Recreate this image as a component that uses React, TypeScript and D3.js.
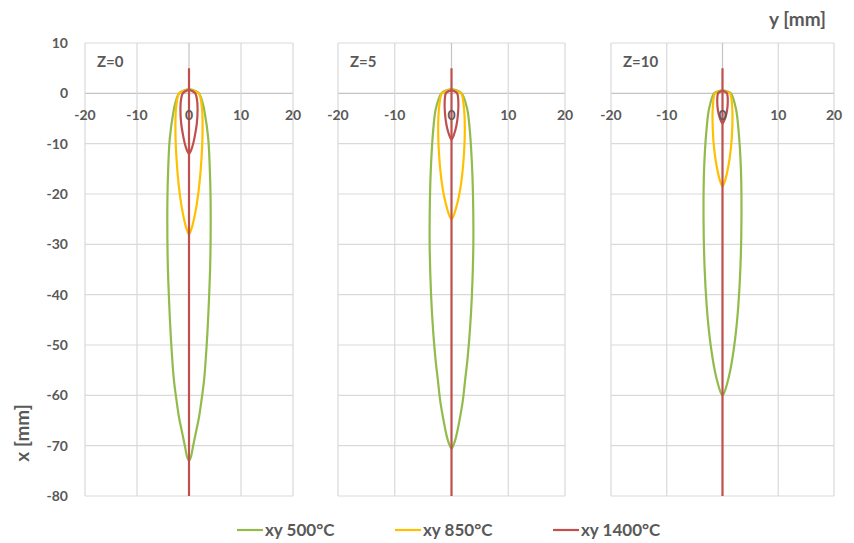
import React, { useEffect, useRef } from 'react';
import * as d3 from 'd3';

// panels and series
const panelLabels = ['Z=0', 'Z=5', 'Z=10'];
const seriesNames = ['xy 500°C', 'xy 850°C', 'xy 1400°C'];
const seriesColors = ['#92bb4c', '#ffc000', '#c0504d'];

const yTickValues = [-20, -10, 0, 10, 20];
const xTickValues = [10, 0, -10, -20, -30, -40, -50, -60, -70, -80];

// half-width profiles: [x depth (mm), half width in y (mm)]
const z0_500: [number, number][] = [
  [0.8, 0], [0.55, 1.0], [0, 1.9], [-2, 2.65], [-4, 3.05], [-9, 3.7], [-15, 4.0], [-21, 4.15],
  [-33, 4.1], [-42, 3.8], [-50, 3.4], [-57, 2.9], [-61, 2.4], [-64.5, 1.9], [-67, 1.4], [-70, 0.8],
  [-72.3, 0.35], [-73, 0],
];
const z0_850: [number, number][] = [
  [0.75, 0], [0.45, 1.0], [0, 1.9], [-3, 2.5], [-8, 2.6], [-13, 2.4], [-18, 2.0], [-22, 1.5],
  [-25, 0.95], [-27, 0.45], [-28, 0],
];
const z0_1400: [number, number][] = [
  [0.65, 0], [0.4, 0.7], [0, 1.2], [-1, 1.5], [-3, 1.65], [-6, 1.5], [-8, 1.2], [-10, 0.8],
  [-11.3, 0.4], [-12, 0],
];

const z5_500: [number, number][] = [
  [0.8, 0], [0.55, 1.0], [0, 1.8], [-3, 2.75], [-7, 3.2], [-14, 3.6], [-21, 3.8], [-30, 3.85],
  [-40, 3.6], [-47, 3.25], [-53, 2.8], [-57, 2.4], [-61, 2.0], [-65, 1.4], [-68.5, 0.75],
  [-70, 0.3], [-70.6, 0],
];
const z5_850: [number, number][] = [
  [0.75, 0], [0.45, 0.9], [0, 1.7], [-3, 2.2], [-7, 2.35], [-12, 2.2], [-17, 1.8], [-20.5, 1.3],
  [-23, 0.75], [-24.5, 0.3], [-25, 0],
];
const z5_1400: [number, number][] = [
  [0.6, 0], [0.35, 0.6], [0, 1.0], [-1.5, 1.2], [-4, 1.15], [-6.5, 0.85], [-8.3, 0.4], [-9.2, 0],
];

const z10_500: [number, number][] = [
  [0.6, 0], [0.35, 0.9], [0, 1.5], [-3, 2.4], [-7, 2.85], [-15, 3.3], [-25, 3.4], [-35, 3.2],
  [-42, 2.85], [-47, 2.45], [-51, 2.0], [-55, 1.4], [-58, 0.75], [-59.5, 0.3], [-60, 0],
];
const z10_850: [number, number][] = [
  [0.5, 0], [0.25, 0.8], [0, 1.35], [-3, 1.75], [-7, 1.75], [-11, 1.5], [-14.5, 1.05],
  [-17, 0.55], [-18.1, 0.2], [-18.5, 0],
];
const z10_1400: [number, number][] = [
  [0.5, 0], [0.25, 0.55], [0, 0.8], [-1.5, 0.95], [-3.5, 0.8], [-5, 0.45], [-6, 0],
];

// red centre line x range
const centreLine: [number, number] = [5, -80];

const profiles = [
  [z0_500, z0_850, z0_1400],
  [z5_500, z5_850, z5_1400],
  [z10_500, z10_850, z10_1400],
];

const font = 'Lato, "Open Sans", sans-serif';
const textColor = '#595959';

const App = () => {
  const chartRef = useRef<SVGSVGElement>(null);

  useEffect(() => {
    const svg = d3.select(chartRef.current);
    svg.selectAll('*').remove();

    const panelRanges = [[85, 293], [338, 565], [611, 834]];
    const y = d3.scaleLinear().domain([-80, 10]).range([496, 43]);

    // right side top->bottom, then left side back up
    const loop = (prof: [number, number][]) => {
      const right = prof.map(([d, w]) => [w, d] as [number, number]);
      const left = prof.slice(1, -1).reverse().map(([d, w]) => [-w, d] as [number, number]);
      return right.concat(left);
    };

    panelRanges.forEach((range, pi) => {
      const x = d3.scaleLinear().domain([-20, 20]).range(range);
      const g = svg.append('g');

      // grid
      g.selectAll('line.h')
        .data(xTickValues)
        .enter()
        .append('line')
        .attr('x1', range[0])
        .attr('x2', range[1])
        .attr('y1', (d) => y(d))
        .attr('y2', (d) => y(d))
        .attr('stroke', (d) => (d === 0 ? '#c4c4c4' : '#d9d9d9'))
        .attr('stroke-width', 1.2);
      g.selectAll('line.v')
        .data(yTickValues)
        .enter()
        .append('line')
        .attr('x1', (d) => x(d))
        .attr('x2', (d) => x(d))
        .attr('y1', y(10))
        .attr('y2', y(-80))
        .attr('stroke', (d) => (d === 0 ? '#c4c4c4' : '#d9d9d9'))
        .attr('stroke-width', 1.2);

      const line = d3
        .line<[number, number]>()
        .x((d) => x(d[0]))
        .y((d) => y(d[1]))
        .curve(d3.curveCatmullRomClosed.alpha(0.5));

      profiles[pi].forEach((prof, si) => {
        g.append('path')
          .attr('d', line(loop(prof)))
          .attr('fill', 'none')
          .attr('stroke', seriesColors[si])
          .attr('stroke-width', 2.2);
      });

      g.append('line')
        .attr('x1', x(0))
        .attr('x2', x(0))
        .attr('y1', y(centreLine[0]))
        .attr('y2', y(centreLine[1]))
        .attr('stroke', seriesColors[2])
        .attr('stroke-width', 2.2);

      // horizontal axis labels
      g.selectAll('text.tick')
        .data(yTickValues)
        .enter()
        .append('text')
        .attr('x', (d) => x(d))
        .attr('y', y(0) + 27)
        .attr('text-anchor', 'middle')
        .attr('font-family', font)
        .attr('font-weight', 'bold')
        .attr('font-size', 14)
        .attr('fill', textColor)
        .text((d) => d);

      g.append('text')
        .attr('x', range[0] + 12)
        .attr('y', y(10) + 24)
        .attr('font-family', font)
        .attr('font-weight', 'bold')
        .attr('font-size', 15)
        .attr('fill', textColor)
        .text(panelLabels[pi]);
    });

    // vertical axis labels (first panel only)
    svg
      .selectAll('text.ytick')
      .data(xTickValues)
      .enter()
      .append('text')
      .attr('x', 68)
      .attr('y', (d) => y(d) + 5)
      .attr('text-anchor', 'end')
      .attr('font-family', font)
      .attr('font-weight', 'bold')
      .attr('font-size', 14)
      .attr('fill', textColor)
      .text((d) => d);

    svg
      .append('text')
      .attr('x', 826)
      .attr('y', 26)
      .attr('text-anchor', 'end')
      .attr('font-family', font)
      .attr('font-weight', 'bold')
      .attr('font-size', 19)
      .attr('fill', textColor)
      .text('y [mm]');

    svg
      .append('text')
      .attr('transform', 'translate(29,433) rotate(-90)')
      .attr('text-anchor', 'middle')
      .attr('font-family', font)
      .attr('font-weight', 'bold')
      .attr('font-size', 19)
      .attr('fill', textColor)
      .text('x [mm]');

    // legend
    const legendX = [237, 395, 553];
    seriesNames.forEach((name, i) => {
      svg
        .append('line')
        .attr('x1', legendX[i])
        .attr('x2', legendX[i] + 26)
        .attr('y1', 530)
        .attr('y2', 530)
        .attr('stroke', seriesColors[i])
        .attr('stroke-width', 2.2);
      svg
        .append('text')
        .attr('x', legendX[i] + 28)
        .attr('y', 536)
        .attr('font-family', font)
        .attr('font-weight', 'bold')
        .attr('font-size', 17)
        .attr('fill', textColor)
        .text(name);
    });
  }, []);

  return (
    <svg
      ref={chartRef}
      width={854}
      height={543}
      style={{ position: 'absolute', left: 0, top: 0, background: '#fff' }}
    ></svg>
  );
};

export default App;
